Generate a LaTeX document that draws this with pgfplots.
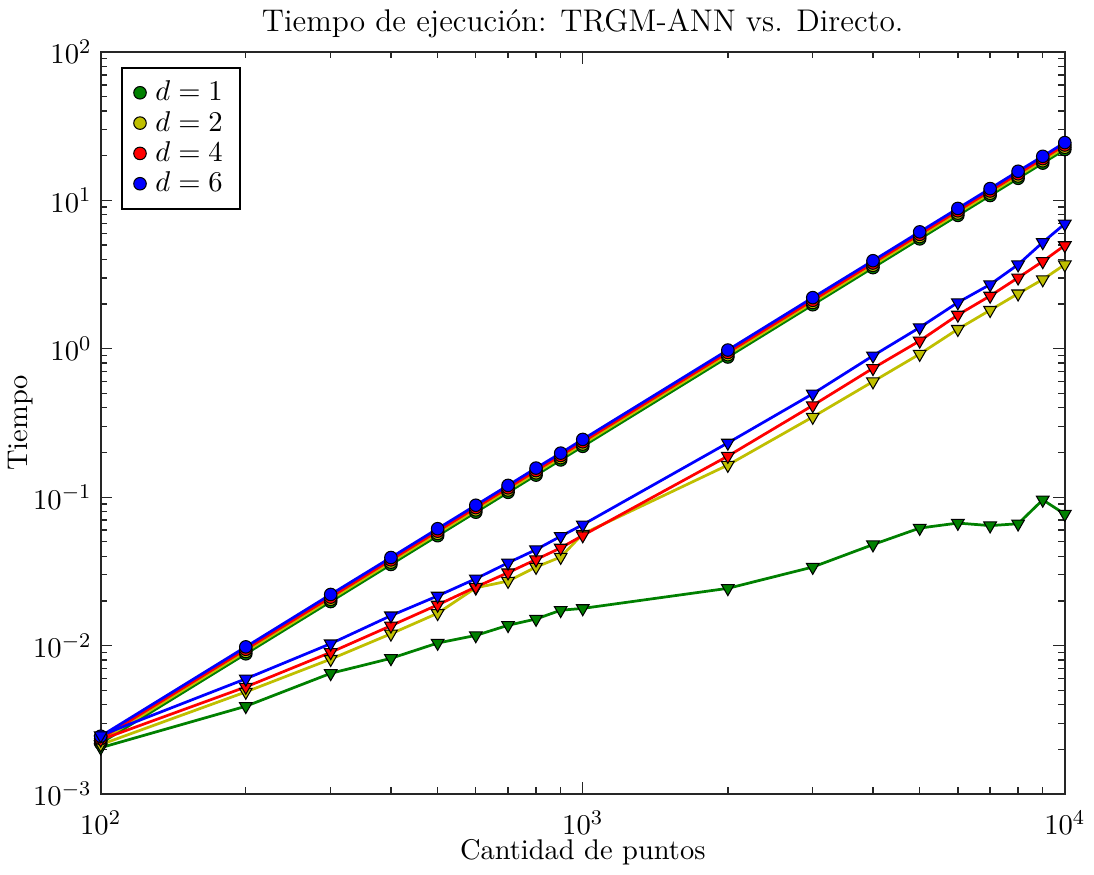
\documentclass[border=0pt]{standalone}
\usepackage{pgfplots}
\usepackage{pgfplotstable}
\pgfplotsset{compat=1.18}
\definecolor{mgreen}{rgb}{0,0.5,0}
\definecolor{myellow}{rgb}{0.75,0.75,0}
\definecolor{mred}{rgb}{1,0,0}
\definecolor{mblue}{rgb}{0,0,1}

% Direct method (circles)
\pgfplotstableread{
n     c1       c2       c4       c6
100   0.00220  0.00228  0.00236  0.00245
200   0.00880  0.00912  0.00944  0.00980
300   0.0198   0.0205   0.0212   0.0221
400   0.0352   0.0365   0.0378   0.0392
500   0.0550   0.0570   0.0590   0.0613
600   0.0792   0.0821   0.0850   0.0882
700   0.1078   0.1117   0.1156   0.1200
800   0.1408   0.1459   0.1510   0.1570
900   0.1782   0.1847   0.1910   0.1980
1000  0.2200   0.2280   0.2360   0.2450
2000  0.880    0.912    0.944    0.980
3000  1.98     2.05     2.12     2.21
4000  3.52     3.65     3.78     3.92
5000  5.50     5.70     5.90     6.13
6000  7.92     8.21     8.50     8.82
7000  10.78    11.17    11.56    12.00
8000  14.08    14.59    15.10    15.70
9000  17.82    18.47    19.10    19.80
10000 22.00    22.80    23.60    24.50
}\circtab

% TRGM-ANN (triangles)
\pgfplotstableread{
n     t1       t2       t4       t6
100   0.00205  0.00215  0.00232  0.00248
200   0.00390  0.00487  0.00526  0.00597
300   0.00650  0.00810  0.00900  0.01030
400   0.00820  0.01200  0.01360  0.01590
500   0.01040  0.01650  0.01880  0.02160
600   0.01170  0.02450  0.02480  0.02820
700   0.01370  0.02720  0.03100  0.03610
800   0.01510  0.03380  0.03800  0.04430
900   0.01730  0.03950  0.04550  0.05450
1000  0.01780  0.05650  0.05520  0.06520
2000  0.02430  0.1645   0.189    0.232
3000  0.03380  0.347    0.415    0.497
4000  0.04790  0.601    0.739    0.897
5000  0.06190  0.921    1.13     1.39
6000  0.06690  1.355    1.69     2.05
7000  0.06430  1.82     2.27     2.71
8000  0.06620  2.35     3.01     3.69
9000  0.09590  2.93     3.88     5.21
10000 0.07690  3.69     4.97     6.95
}\tritab

\pgfplotsset{
  cst/.style={color=#1, line width=1.05pt, mark=*, mark size=2.4pt,
    mark options={draw=black, fill=#1, line width=0.4pt}},
  tst/.style={color=#1, line width=1.05pt, mark=triangle*, mark size=2.8pt,
    mark options={draw=black, fill=#1, line width=0.4pt, rotate=180}},
}

\begin{document}
\begin{tikzpicture}
\begin{axis}[
  scale only axis, width=369pt, height=284pt,
  xmode=log, ymode=log,
  xmin=100, xmax=10000, ymin=1e-3, ymax=1e2,
  title={Tiempo de ejecuci\'on: TRGM-ANN vs. Directo.},
  xlabel={Cantidad de puntos}, ylabel={Tiempo},
  tick align=inside,
  major tick length=4.5pt, minor tick length=2.5pt,
  every tick/.style={black!85, line width=0.5pt},
  axis line style={black!85, line width=0.8pt},
  tick label style={font=\fontsize{10.8}{13}\selectfont},
  xticklabel shift=3pt,
  label style={font=\fontsize{10.9}{13}\selectfont},
  title style={font=\large, yshift=-4pt},
  xlabel style={yshift=5pt},
  ylabel style={yshift=-7pt},
  legend style={at={(0.021,0.98)}, anchor=north west,
    font=\fontsize{11.3}{13}\selectfont,
    draw=black, line width=0.8pt, inner xsep=4.5pt, inner ysep=3pt,
    row sep=-1.5pt, column sep=1.5pt},
  legend cell align=left,
]
\addlegendimage{only marks, mark=*, mark size=2.4pt, mark options={draw=black, fill=mgreen, line width=0.4pt}}
\addlegendentry{$d=1$}
\addlegendimage{only marks, mark=*, mark size=2.4pt, mark options={draw=black, fill=myellow, line width=0.4pt}}
\addlegendentry{$d=2$}
\addlegendimage{only marks, mark=*, mark size=2.4pt, mark options={draw=black, fill=mred, line width=0.4pt}}
\addlegendentry{$d=4$}
\addlegendimage{only marks, mark=*, mark size=2.4pt, mark options={draw=black, fill=mblue, line width=0.4pt}}
\addlegendentry{$d=6$}

\addplot[cst=mgreen, forget plot] table[x=n, y=c1] {\circtab};
\addplot[tst=mgreen, forget plot] table[x=n, y=t1] {\tritab};
\addplot[cst=myellow, forget plot] table[x=n, y=c2] {\circtab};
\addplot[tst=myellow, forget plot] table[x=n, y=t2] {\tritab};
\addplot[cst=mred, forget plot] table[x=n, y=c4] {\circtab};
\addplot[tst=mred, forget plot] table[x=n, y=t4] {\tritab};
\addplot[cst=mblue, forget plot] table[x=n, y=c6] {\circtab};
\addplot[tst=mblue, forget plot] table[x=n, y=t6] {\tritab};
\end{axis}
\end{tikzpicture}
\end{document}
